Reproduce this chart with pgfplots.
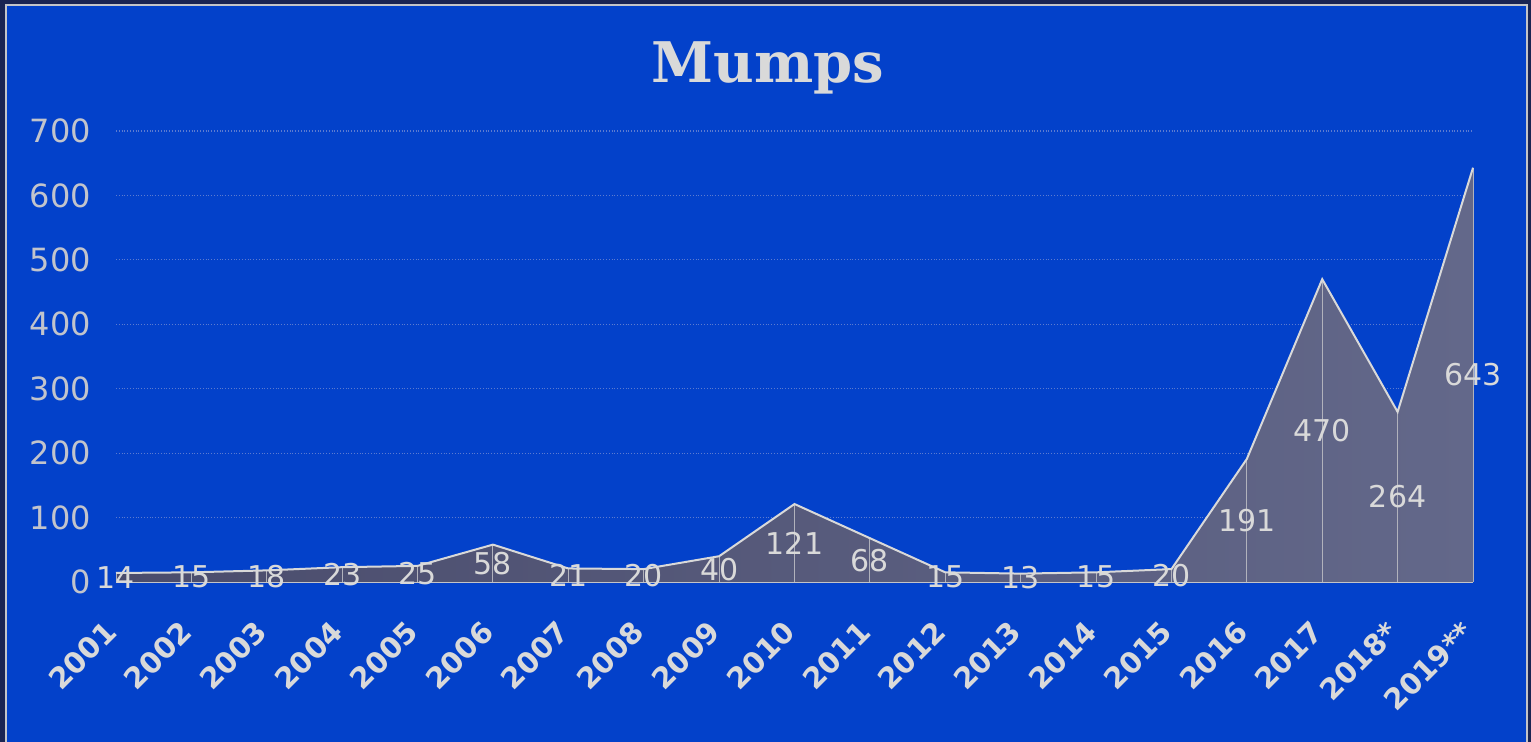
\documentclass[border=0pt]{standalone}
\usepackage{fontspec}
\setmainfont{DejaVu Sans}
\newfontfamily\titlefont{DejaVu Serif}
\usepackage{pgfplots}
\usepackage{pgfplotstable}
\pgfplotsset{compat=1.18}
\definecolor{bgblue}{HTML}{0341CA}
\definecolor{navy}{HTML}{1A2452}
\definecolor{frame}{HTML}{C4C4C8}
\definecolor{areaL}{HTML}{4A4C6C}
\definecolor{areaR}{HTML}{63688A}
\definecolor{txt}{HTML}{D9D9D9}
\definecolor{tick}{HTML}{C2C4CC}
\definecolor{gridc}{HTML}{5C7BD0}

\pgfplotstableread{
x y
0 14
1 15
2 18
3 23
4 25
5 58
6 21
7 20
8 40
9 121
10 68
11 15
12 13
13 15
14 20
15 191
16 470
17 264
18 643
}\mumps

\begin{document}
\begin{tikzpicture}
% page background and frame (1pt = 2px)
\fill[navy] (0,0) rectangle (765.5pt,371pt);
\draw[frame,line width=1pt,fill=bgblue] (2.75pt,-5pt) rectangle (763.25pt,368.25pt);
\node[font=\titlefont\bfseries\fontsize{28}{28}\selectfont,text=txt,anchor=base] at (384pt,329.5pt) {Mumps};
\begin{axis}[
  at={(58pt,80pt)},anchor=south west,
  scale only axis,width=678.5pt,height=225.5pt,
  xmin=0,xmax=18,ymin=0,ymax=700,
  xtick={0,...,18},
  xticklabels={2001,2002,2003,2004,2005,2006,2007,2008,2009,2010,2011,2012,2013,2014,2015,2016,2017,2018*,2019**},
  ytick={0,100,...,700},
  major tick length=0pt,
  axis x line*=bottom,axis y line*=left,
  x axis line style={draw=frame,line width=0.8pt},
  y axis line style={draw=none},
  ymajorgrids,
  grid style={gridc,densely dotted,line width=0.6pt},
  /pgf/number format/assume math mode=true,
  yticklabel style={font=\fontsize{16}{16}\selectfont,text=tick,xshift=-9pt},
  xticklabel style={font=\bfseries\fontsize{14.5}{14.5}\selectfont,text=txt,rotate=45,anchor=east},
  xticklabel shift=20pt,
  clip=false,
]
\addplot[draw=none,left color=areaL,right color=areaR] table[x=x,y=y] {\mumps} \closedcycle;
\addplot[ycomb,draw=frame!80!areaR,line width=0.5pt,no markers] table[x=x,y=y] {\mumps};
\addplot[draw=txt,line width=1pt,no markers] table[x=x,y=y] {\mumps};
\addplot[draw=none,no markers,nodes near coords,point meta=explicit,
  nodes near coords style={anchor=center,font=\fontsize{15}{15}\selectfont,text=txt,inner sep=0pt}]
  table[x=x,y expr=\thisrow{y}/2,meta=y] {\mumps};
\end{axis}
\pgfresetboundingbox
\useasboundingbox (0,0) rectangle (765.5pt,371pt);
\end{tikzpicture}
\end{document}
